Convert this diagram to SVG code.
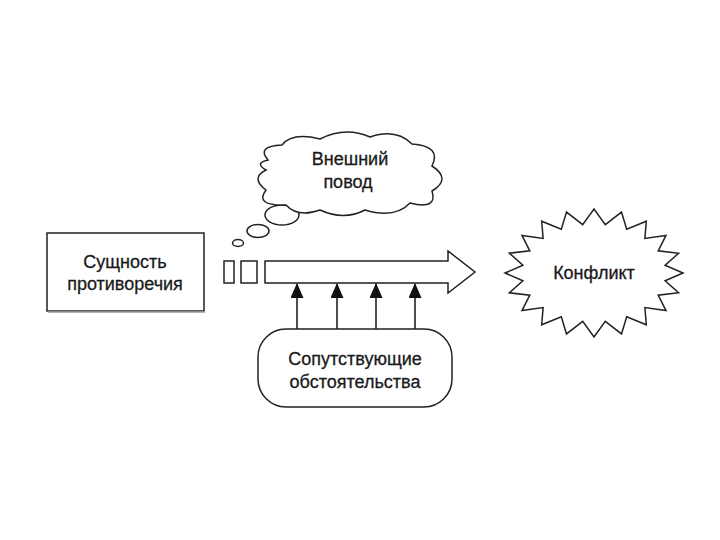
<svg xmlns="http://www.w3.org/2000/svg" width="720" height="540" viewBox="0 0 720 540">
<style>
.s{fill:#fff;stroke:#222;stroke-width:1.5}
.t{font-family:"Liberation Sans",Arial,sans-serif;font-size:18px;fill:#1a1a1a;stroke:#1a1a1a;stroke-width:0.3;text-anchor:middle}
.l{stroke:#222;stroke-width:1.6;fill:none}
</style>
<defs>
<marker id="ah" markerWidth="15" markerHeight="13" refX="14" refY="6.5" orient="auto" markerUnits="userSpaceOnUse" viewBox="0 0 15 13">
<path d="M0,0 L15,6.5 L0,13 Z" fill="#111"/>
</marker>
</defs>
<rect width="720" height="540" fill="#fff"/>
<g id="essence">
<rect class="s" x="47" y="233" width="157" height="78"/>
<line x1="48" y1="312" x2="205" y2="312" stroke="#999" stroke-width="1.5"/>
<text class="t" x="125" y="268">Сущность</text>
<text class="t" x="125" y="290">противоречия</text>
</g>
<g id="main-arrow">
<rect class="s" x="224" y="261" width="10" height="22"/>
<rect class="s" x="241" y="261" width="16" height="22"/>
<path class="s" d="M265,261 L448,261 L448,251 L475,272 L448,293 L448,283 L265,283 Z"/>
</g>
<g id="cloud">
<ellipse class="s" cx="238" cy="243" rx="5.5" ry="3.5"/>
<ellipse class="s" cx="258" cy="231" rx="11" ry="6.5"/>
<ellipse class="s" cx="282" cy="215" rx="17" ry="10"/>
<path class="s" d="M268,160 Q256,146 282,145 Q292,132 320,139 Q345,126 370,137 Q396,128 412,144 Q442,146 432,166 Q452,179 432,191 Q438,210 410,203 Q395,219 365,210 Q344,221 320,210 Q298,218 286,205 Q254,206 266,190 Q250,178 266,170 Q254,163 268,160 Z"/>
<text class="t" x="350" y="165">Внешний</text>
<text class="t" x="348" y="188">повод</text>
</g>
<g id="conflict">
<polygon class="s" points="683,273 665.1,280.7 678.6,292.8 658.2,295.2 666,310.6 644.9,307.6 646.3,324.8 626.7,316.7 621.5,333.9 605.3,321.4 594,337 582.7,321.4 566.5,333.9 561.3,316.7 541.7,324.8 543.1,307.6 522,310.6 529.8,295.2 509.4,292.8 522.9,280.7 505,273 522.9,265.3 509.4,253.2 529.8,250.8 522,235.4 543.1,238.4 541.7,221.2 561.3,229.3 566.5,212.1 582.7,224.6 594,209 605.3,224.6 621.5,212.1 626.7,229.3 646.3,221.2 644.9,238.4 666,235.4 658.2,250.8 678.6,253.2 665.1,265.3"/>
<text class="t" x="594" y="279">Конфликт</text>
</g>
<g id="circumstances">
<rect class="s" x="258" y="329" width="194" height="78" rx="28" ry="28"/>
<text class="t" x="355" y="365">Сопутствующие</text>
<text class="t" x="355" y="388">обстоятельства</text>
</g>
<g id="connectors">
<line class="l" x1="297" y1="329" x2="297" y2="284" marker-end="url(#ah)"/>
<line class="l" x1="337" y1="329" x2="337" y2="284" marker-end="url(#ah)"/>
<line class="l" x1="376" y1="329" x2="376" y2="284" marker-end="url(#ah)"/>
<line class="l" x1="415" y1="329" x2="415" y2="284" marker-end="url(#ah)"/>
</g>
</svg>
